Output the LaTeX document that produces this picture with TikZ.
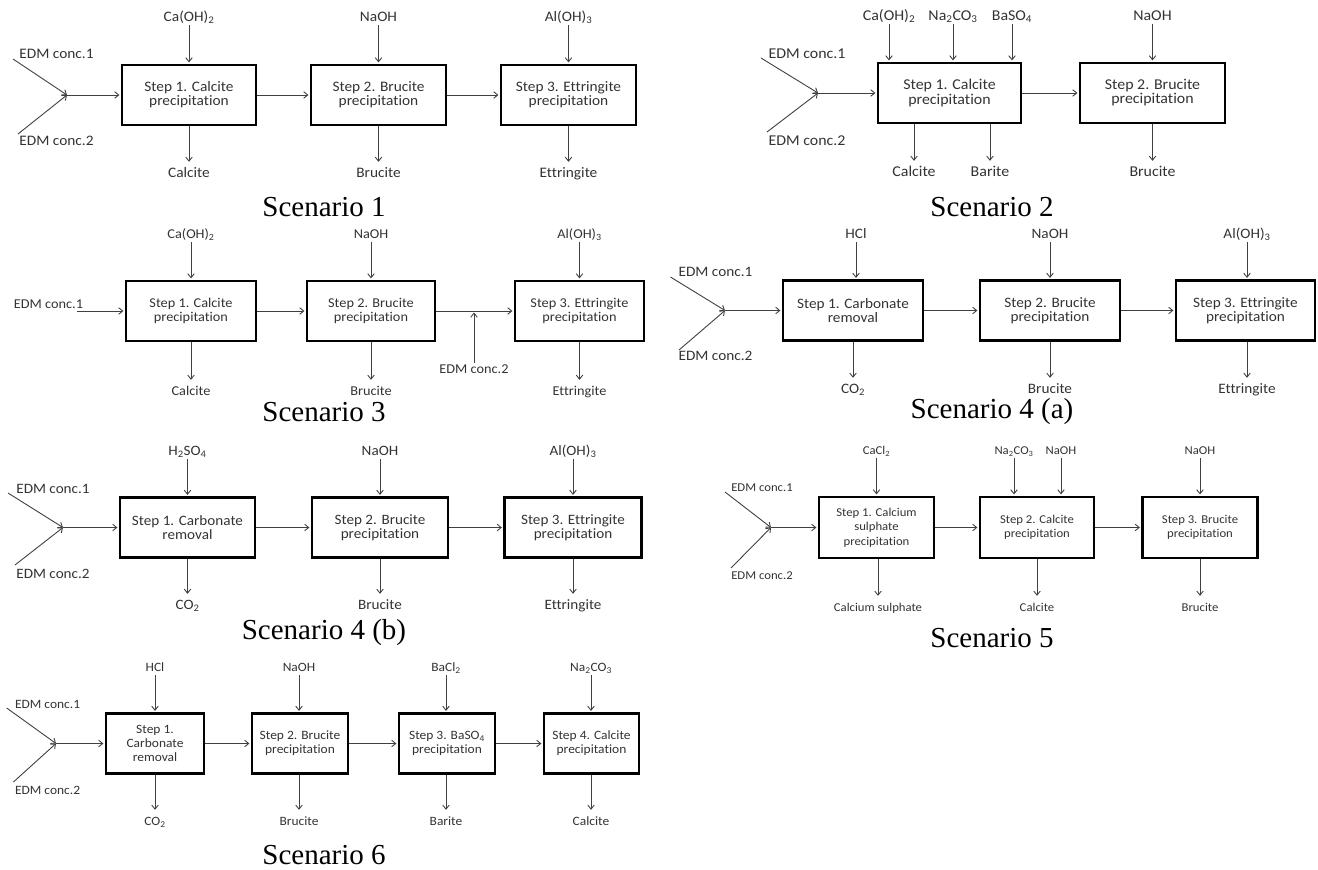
\documentclass[tikz,border=0pt]{standalone}
\usepackage{fontspec}
\setmainfont{Carlito}[FakeStretch=1.06, Ligatures=NoCommon]
\newfontfamily\capfont{Liberation Serif}
\usetikzlibrary{arrows.meta}
\usetikzlibrary{calc}

\tikzset{
  box/.style={draw=black, line width=2.2pt, align=center, inner sep=1pt,
    minimum height=60pt, text=black!80},
  flow/.style={-{Straight Barb[length=4pt,width=6.5pt]}, line width=0.9pt,
    draw=black!75, shorten >=1.5pt},
  lbl/.style={text=black!80, inner sep=1pt, text height=9.5pt, text depth=2.5pt},
  caption/.style={font=\capfont\fontsize{29}{32}\selectfont, inner sep=0pt},
  sc/.style={every node/.append style={font=\fontsize{#1}{14}\selectfont}}
}

\begin{document}
\begin{tikzpicture}[x=1pt,y=-1pt]

        \useasboundingbox (0,0) rectangle (1318,870);

        % Scenario 1
        \begin{scope}[sc=14.5]
          \node[box, minimum width=134pt] (s1b1) at (189,95) {Step 1. Calcite\\precipitation};
          \node[box, minimum width=135pt] (s1b2) at (378.5,95) {Step 2. Brucite\\precipitation};
          \node[box, minimum width=135pt] (s1b3) at (568.5,95) {Step 3. Ettringite\\precipitation};
          \foreach \a/\b in {b1/b2,b2/b3}
            \draw[flow] (s1\a) -- (s1\b);
          \foreach \n/\x/\t in {1/189/{Ca(OH)\textsubscript{2}},2/378.5/NaOH,3/568.5/{Al(OH)\textsubscript{3}}}
          {
            \node[lbl] (s1i\n) at (\x,18) {\t};
            \draw[flow] (s1i\n) -- (s1i\n |- s1b\n.north);
          }
          \foreach \n/\x/\t in {1/189/Calcite,2/378.5/Brucite,3/568.5/Ettringite}
          {
            \node[lbl] (s1o\n) at (\x,174) {\t};
            \draw[flow, shorten >=5pt] (s1b\n.south -| s1o\n) -- (s1o\n);
          }
          \coordinate (s1j) at (67,95);
          \coordinate (s1u) at (13,59);
          \coordinate (s1d) at (18,134);
          \node[lbl] (s1e1) at (56.5,55) {EDM conc.1};
          \node[lbl] (s1e2) at (56.5,142) {EDM conc.2};
          \draw[flow, shorten >=0pt] (s1u) -- (s1j);
          \draw[flow, shorten >=0pt] (s1d) -- (s1j);
          \draw[flow] (s1j) -- (s1j -| s1b1.west);
          \node[caption] (s1cap) at (324,207) {Scenario 1};
        \end{scope}

        % Scenario 2
        \begin{scope}[sc=15]
          \node[box, minimum width=143pt] (s2b1) at (949.5,93) {Step 1. Calcite\\precipitation};
          \node[box, minimum width=145pt] (s2b2) at (1152.5,93) {Step 2. Brucite\\precipitation};
          \draw[flow] (s2b1) -- (s2b2);
          \foreach \n/\x/\t in {1/889/{Ca(OH)\textsubscript{2}},2/953/{Na\textsubscript{2}CO\textsubscript{3}},3/1012/{BaSO\textsubscript{4}}}
          {
            \node[lbl] (s2i\n) at (\x,17) {\t};
            \draw[flow] (s2i\n) -- (s2i\n |- s2b1.north);
          }
          \node[lbl] (s2i4) at (1152.5,17) {NaOH};
          \draw[flow] (s2i4) -- (s2i4 |- s2b2.north);
          \foreach \n/\x/\t in {1/914/Calcite,2/990/Barite}
          {
            \node[lbl] (s2o\n) at (\x,173) {\t};
            \draw[flow, shorten >=5pt] (s2b1.south -| s2o\n) -- (s2o\n);
          }
          \node[lbl] (s2o3) at (1152.5,173) {Brucite};
          \draw[flow, shorten >=5pt] (s2b2.south -| s2o3) -- (s2o3);
          \coordinate (s2j) at (818,93);
          \coordinate (s2u) at (761,58);
          \coordinate (s2d) at (767,132);
          \node[lbl] (s2e1) at (807,55) {EDM conc.1};
          \node[lbl] (s2e2) at (807,142) {EDM conc.2};
          \draw[flow, shorten >=0pt] (s2u) -- (s2j);
          \draw[flow, shorten >=0pt] (s2d) -- (s2j);
          \draw[flow] (s2j) -- (s2j -| s2b1.west);
          \node[caption] (s2cap) at (992,207) {Scenario 2};
        \end{scope}

        % Scenario 3
        \begin{scope}[sc=13.5]
          \node[box, minimum width=130pt] (s3b1) at (191,311) {Step 1. Calcite\\precipitation};
          \node[box, minimum width=128pt] (s3b2) at (371,311) {Step 2. Brucite\\precipitation};
          \node[box, minimum width=129pt] (s3b3) at (579.5,311) {Step 3. Ettringite\\precipitation};
          \foreach \a/\b in {b1/b2,b2/b3}
            \draw[flow] (s3\a) -- (s3\b);
          \foreach \n/\x/\t in {1/191/{Ca(OH)\textsubscript{2}},2/371/NaOH,3/579.5/{Al(OH)\textsubscript{3}}}
          {
            \node[lbl] (s3i\n) at (\x,235) {\t};
            \draw[flow] (s3i\n) -- (s3i\n |- s3b\n.north);
          }
          \foreach \n/\x/\t in {1/191/Calcite,2/371/Brucite,3/579.5/Ettringite}
          {
            \node[lbl] (s3o\n) at (\x,392) {\t};
            \draw[flow, shorten >=5pt] (s3b\n.south -| s3o\n) -- (s3o\n);
          }
          \coordinate (s3s) at (77,311);
          \node[lbl] (s3e1) at (48.5,305) {EDM conc.1};
          \draw[flow] (s3s) -- (s3b1);
          \node[lbl] (s3e2) at (474,370) {EDM conc.2};
          \draw[flow] (s3e2) -- (s3e2 |- s3b2.east);
          \node[caption] (s3cap) at (324,412) {Scenario 3};
        \end{scope}

        % Scenario 4 (a)
        \begin{scope}[sc=14.4]
          \node[box, minimum width=140pt] (s4b1) at (853,310.5) {Step 1. Carbonate\\removal};
          \node[box, minimum width=140pt] (s4b2) at (1050,310.5) {Step 2. Brucite\\precipitation};
          \node[box, minimum width=139pt] (s4b3) at (1245.5,310.5) {Step 3. Ettringite\\precipitation};
          \foreach \a/\b in {b1/b2,b2/b3}
            \draw[flow] (s4\a) -- (s4\b);
          \foreach \n/\x/\t in {1/856/HCl,2/1050/NaOH,3/1247/{Al(OH)\textsubscript{3}}}
          {
            \node[lbl] (s4i\n) at (\x,235) {\t};
            \draw[flow] (s4i\n) -- (s4i\n |- s4b\n.north);
          }
          \foreach \n/\x/\t in {1/853/{CO\textsubscript{2}},2/1050/Brucite,3/1247/Ettringite}
          {
            \node[lbl] (s4o\n) at (\x,390) {\t};
            \draw[flow, shorten >=5pt] (s4b\n.south -| s4o\n) -- (s4o\n);
          }
          \coordinate (s4j) at (725,310.5);
          \coordinate (s4u) at (670.5,277);
          \coordinate (s4d) at (679,350);
          \node[lbl] (s4e1) at (715.5,273) {EDM conc.1};
          \node[lbl] (s4e2) at (715.5,357) {EDM conc.2};
          \draw[flow, shorten >=0pt] (s4u) -- (s4j);
          \draw[flow, shorten >=0pt] (s4d) -- (s4j);
          \draw[flow] (s4j) -- (s4j -| s4b1.west);
          \node[caption] (s4cap) at (992,412) {Scenario 4 (a)};
        \end{scope}

        % Scenario 4 (b)
        \begin{scope}[sc=14.3]
          \node[box, minimum width=135pt] (s5b1) at (187.5,527.5) {Step 1. Carbonate\\removal};
          \node[box, minimum width=136pt] (s5b2) at (380,527.5) {Step 2. Brucite\\precipitation};
          \node[box, minimum width=137pt] (s5b3) at (573,527.5) {Step 3. Ettringite\\precipitation};
          \foreach \a/\b in {b1/b2,b2/b3}
            \draw[flow] (s5\a) -- (s5\b);
          \foreach \n/\x/\t in {1/187.5/{H\textsubscript{2}SO\textsubscript{4}},2/380/NaOH,3/573/{Al(OH)\textsubscript{3}}}
          {
            \node[lbl] (s5i\n) at (\x,452) {\t};
            \draw[flow] (s5i\n) -- (s5i\n |- s5b\n.north);
          }
          \foreach \n/\x/\t in {1/187.5/{CO\textsubscript{2}},2/380/Brucite,3/573/Ettringite}
          {
            \node[lbl] (s5o\n) at (\x,606) {\t};
            \draw[flow, shorten >=5pt] (s5b\n.south -| s5o\n) -- (s5o\n);
          }
          \coordinate (s5j) at (63,527.5);
          \coordinate (s5u) at (8,493);
          \coordinate (s5d) at (15,565);
          \node[lbl] (s5e1) at (53,490) {EDM conc.1};
          \node[lbl] (s5e2) at (53,575) {EDM conc.2};
          \draw[flow, shorten >=0pt] (s5u) -- (s5j);
          \draw[flow, shorten >=0pt] (s5d) -- (s5j);
          \draw[flow] (s5j) -- (s5j -| s5b1.west);
          \node[caption] (s5cap) at (324,633) {Scenario 4 (b)};
        \end{scope}

        % Scenario 5
        \begin{scope}[sc=12, box/.append style={font=\fontsize{12}{14.5}\selectfont}]
          \node[box, minimum width=115pt, minimum height=61pt] (s6b1) at (876.5,527.5) {Step 1. Calcium\\sulphate\\precipitation};
          \node[box, minimum width=114pt, minimum height=61pt] (s6b2) at (1037,527.5) {Step 2. Calcite\\precipitation};
          \node[box, minimum width=115pt, minimum height=61pt] (s6b3) at (1200,527.5) {Step 3. Brucite\\precipitation};
          \foreach \a/\b in {b1/b2,b2/b3}
            \draw[flow] (s6\a) -- (s6\b);
          \node[lbl] (s6i1) at (876.5,451) {CaCl\textsubscript{2}};
          \draw[flow] (s6i1) -- (s6i1 |- s6b1.north);
          \foreach \n/\x/\t in {2/1014/{Na\textsubscript{2}CO\textsubscript{3}},3/1061/NaOH}
          {
            \node[lbl] (s6i\n) at (\x,451) {\t};
            \draw[flow] (s6i\n) -- (s6i\n |- s6b2.north);
          }
          \node[lbl] (s6i4) at (1200,451) {NaOH};
          \draw[flow] (s6i4) -- (s6i4 |- s6b3.north);
          \foreach \n/\x/\t in {1/878/Calcium sulphate,2/1037/Calcite,3/1200/Brucite}
          {
            \node[lbl] (s6o\n) at (\x,608) {\t};
            \draw[flow, shorten >=5pt] (s6b\n.south -| s6o\n) -- (s6o\n);
          }
          \coordinate (s6j) at (771,527.5);
          \coordinate (s6u) at (725,492);
          \coordinate (s6d) at (731,568);
          \node[lbl] (s6e1) at (762,488) {EDM conc.1};
          \node[lbl] (s6e2) at (762,576) {EDM conc.2};
          \draw[flow, shorten >=0pt] (s6u) -- (s6j);
          \draw[flow, shorten >=0pt] (s6d) -- (s6j);
          \draw[flow] (s6j) -- (s6j -| s6b1.west);
          \node[caption] (s6cap) at (992,638) {Scenario 5};
        \end{scope}

        % Scenario 6
        \begin{scope}[sc=12.7]
          \node[box, minimum width=98pt] (s7b1) at (155,743.5) {Step 1.\\Carbonate\\removal};
          \node[box, minimum width=96pt] (s7b2) at (300,743.5) {Step 2. Brucite\\precipitation};
          \node[box, minimum width=96pt] (s7b3) at (447,743.5) {Step 3. BaSO\textsubscript{4}\\precipitation};
          \node[box, minimum width=95pt] (s7b4) at (591.5,743.5) {Step 4. Calcite\\precipitation};
          \foreach \a/\b in {b1/b2,b2/b3,b3/b4}
            \draw[flow] (s7\a) -- (s7\b);
          \foreach \n/\x/\t in {1/155/HCl,2/299/NaOH,3/446/{BaCl\textsubscript{2}},4/591/{Na\textsubscript{2}CO\textsubscript{3}}}
          {
            \node[lbl] (s7i\n) at (\x,668) {\t};
            \draw[flow] (s7i\n) -- (s7i\n |- s7b\n.north);
          }
          \foreach \n/\x/\t in {1/155/{CO\textsubscript{2}},2/299/Brucite,3/446/Barite,4/591/Calcite}
          {
            \node[lbl] (s7o\n) at (\x,822) {\t};
            \draw[flow, shorten >=5pt] (s7b\n.south -| s7o\n) -- (s7o\n);
          }
          \coordinate (s7j) at (56,743.5);
          \coordinate (s7u) at (6.7,708);
          \coordinate (s7d) at (13.4,782);
          \node[lbl] (s7e1) at (47.6,705) {EDM conc.1};
          \node[lbl] (s7e2) at (47.6,791) {EDM conc.2};
          \draw[flow, shorten >=0pt] (s7u) -- (s7j);
          \draw[flow, shorten >=0pt] (s7d) -- (s7j);
          \draw[flow] (s7j) -- (s7j -| s7b1.west);
          \node[caption] (s7cap) at (324,855) {Scenario 6};
        \end{scope}

\end{tikzpicture}
\end{document}
